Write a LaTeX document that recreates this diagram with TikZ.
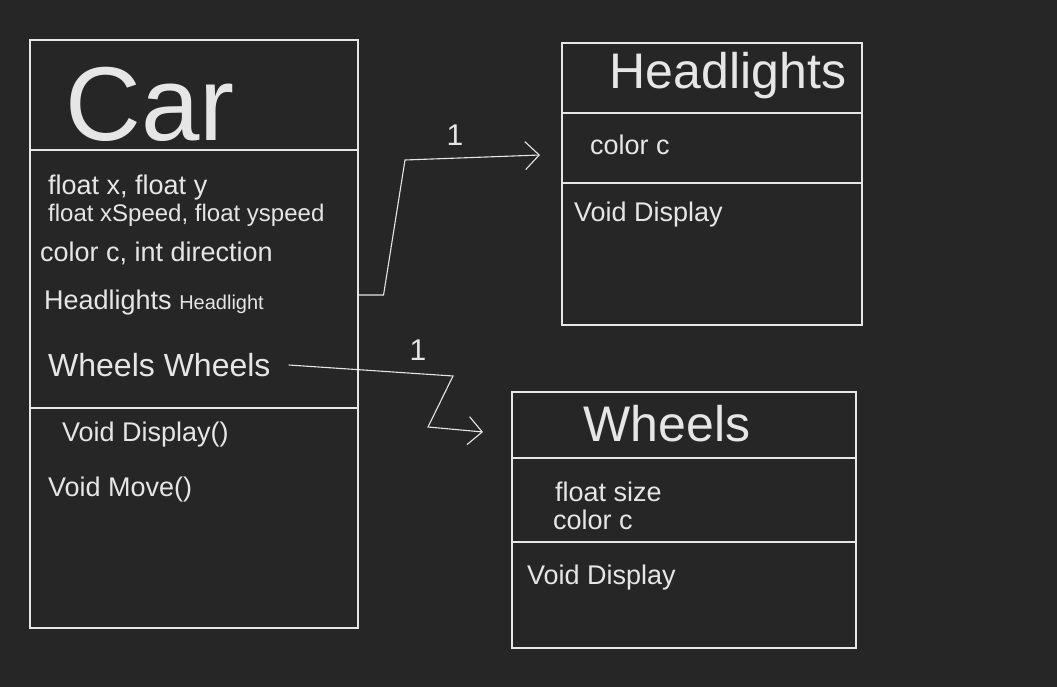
\documentclass[tikz,border=0pt]{standalone}
\usepackage{fontspec}
\setmainfont{Liberation Sans}
\usetikzlibrary{arrows.meta,positioning}
\definecolor{board}{HTML}{262626}
\definecolor{chalk}{HTML}{E6E6E6}
\tikzset{
  classbox/.style={draw=chalk, line width=1.1pt, rectangle, inner sep=0pt},
  divider/.style={draw=chalk, line width=1.1pt},
  member/.style={text=chalk, anchor=west, inner sep=0pt, font=\fontsize{27}{30}\selectfont},
  title/.style={text=chalk, inner sep=0pt},
  assoc/.style={draw=chalk, line width=1.1pt, -{Straight Barb[length=14pt,width=28pt,line width=1.1pt]}},
  mult/.style={text=chalk, inner sep=0pt, font=\fontsize{30}{32}\selectfont},
}
\begin{document}
\begin{tikzpicture}[x=1pt, y=-1pt]
    \fill[board] (0,0) rectangle (1057,687);
    \useasboundingbox (0,0) rectangle (1057,687);

    % class Car
    \node[classbox, minimum width=328pt, minimum height=588pt] (car) at (194,334) {};
    \draw[divider] (car.west |- 0,150) -- (car.east |- 0,150);
    \draw[divider] (car.west |- 0,408) -- (car.east |- 0,408);
    \node[title, font=\fontsize{105}{110}\selectfont] (cartitle) at (150,104) {Car};
    \node[member] (carx) at (48,188) {float x, float y};
    \node[member, font=\fontsize{24}{26}\selectfont] (carspeed) at (48,215) {float xSpeed, float yspeed};
    \node[member] (carcol) at (40,253) {color c, int direction};
    \node[member] (hlattr) at (44,303) {Headlights \fontsize{20}{22}\selectfont Headlight};
    \node[member, font=\fontsize{32}{34}\selectfont] (wattr) at (48,365) {Wheels Wheels};
    \node[member] (cardisp) at (62,435) {Void Display()};
    \node[member] (carmove) at (48,490) {Void Move()};

    % class Headlights
    \node[classbox, minimum width=300pt, minimum height=282pt] (hlbox) at (712,184) {};
    \draw[divider] (hlbox.west |- 0,113) -- (hlbox.east |- 0,113);
    \draw[divider] (hlbox.west |- 0,183) -- (hlbox.east |- 0,183);
    \node[title, font=\fontsize{50}{54}\selectfont] (hltitle) at (728,76) {Headlights};
    \node[member] (hlcol) at (590,145) {color c};
    \node[member] (hldisp) at (574,215) {Void Display};

    % class Wheels
    \node[classbox, minimum width=344pt, minimum height=256pt] (wbox) at (684,520) {};
    \draw[divider] (wbox.west |- 0,458) -- (wbox.east |- 0,458);
    \draw[divider] (wbox.west |- 0,542) -- (wbox.east |- 0,542);
    \node[title, font=\fontsize{50}{54}\selectfont] (wtitle) at (667,424) {Wheels};
    \node[member] (wsize) at (555,492) {float size};
    \node[member] (wcol) at (553,520) {color c};
    \node[member] (wdisp) at (527,578) {Void Display};

    % associations
    \coordinate (hlTip) at (540,155);
    \coordinate (wTip) at (483,432);
    \draw[assoc] (car.east |- 0,295) -- ++(25,0) -- (405,160) -- (hlTip);
    \draw[assoc] (wattr.east) ++(18,0) -- (453,376) -- (428,427) -- (wTip);
    \node[mult] (hlmult) at (455,135) {1};
    \node[mult] (wmult) at (418,350) {1};
\end{tikzpicture}
\end{document}
